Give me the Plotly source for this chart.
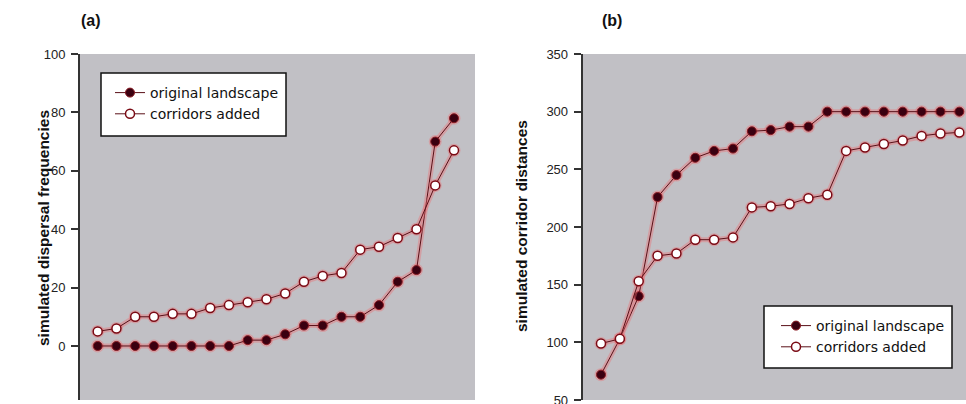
import plotly.graph_objects as go

# ---- data ----
runs = list(range(1, 21))
a_original = [0, 0, 0, 0, 0, 0, 0, 0, 2, 2, 4, 7, 7, 10, 10, 14, 22, 26, 70, 78]
a_corridors = [5, 6, 10, 10, 11, 11, 13, 14, 15, 16, 18, 22, 24, 25, 33, 34, 37, 40, 55, 67]
b_original = [72, 103, 140, 226, 245, 260, 266, 268, 283, 284, 287, 287,
              300, 300, 300, 300, 300, 300, 300, 300]
b_corridors = [99, 103, 153, 175, 177, 189, 189, 191, 217, 218, 220, 225,
               228, 266, 269, 272, 275, 279, 281, 282]
series_names = ["original landscape", "corridors added"]
a_ticks = [0, 20, 40, 60, 80, 100]
b_ticks = [50, 100, 150, 200, 250, 300, 350]

W, H = 966, 404
def px(x): return x / W
def py(y): return 1 - y / H

LINE = "#5a1018"
HALO = "rgba(235,110,115,0.40)"
FILL_DARK = "#3a0010"
EDGE = "#8b1a22"

fig = go.Figure()

def add_series(x, y, xa, ya, filled, name, legend):
    # soft halo underneath
    fig.add_trace(go.Scatter(
        x=x, y=y, xaxis=xa, yaxis=ya, mode="lines+markers",
        line=dict(color=HALO, width=5),
        marker=dict(size=13, color=HALO, line=dict(width=0)),
        showlegend=False, hoverinfo="skip"))
    fig.add_trace(go.Scatter(
        x=x, y=y, xaxis=xa, yaxis=ya, mode="lines+markers", name=name,
        legend=legend,
        line=dict(color=LINE, width=1),
        marker=dict(size=9, symbol="circle",
                    color=FILL_DARK if filled else "white",
                    line=dict(color=EDGE if filled else "#7a0a14",
                              width=1 if filled else 1.5))))

add_series(runs, a_original, "x", "y", True, series_names[0], "legend")
add_series(runs, a_corridors, "x", "y", False, series_names[1], "legend")
add_series(runs, b_original, "x2", "y2", True, series_names[0], "legend2")
add_series(runs, b_corridors, "x2", "y2", False, series_names[1], "legend2")

ydom = [py(400), py(54)]
axis_common = dict(showgrid=False, zeroline=False, automargin=False)
tickfont = dict(family="Liberation Sans, Arial", size=13, color="#222")
yaxis_style = dict(ticks="outside", ticklen=7, tickwidth=1.5, tickcolor="#333",
                   showline=True, linecolor="#333", linewidth=2,
                   tickfont=tickfont, ticklabelstandoff=3,
                   ticklabeloverflow="allow", **axis_common)
legfont = dict(family="DejaVu Sans, Verdana", size=14, color="#111")
titlefont = dict(family="Liberation Sans, Arial", size=15.5, color="#111")
labfont = dict(family="Liberation Sans, Arial", size=16, color="#111")

fig.update_layout(
    width=W, height=H, margin=dict(l=0, r=0, t=0, b=0, autoexpand=False),
    paper_bgcolor="white", plot_bgcolor="#c1c0c5",
    xaxis=dict(domain=[px(80), px(475)], range=[0.057, 21.12],
               showticklabels=False, ticks="", showline=False, **axis_common),
    yaxis=dict(domain=ydom, range=[-18.5, 100], tickvals=a_ticks, **yaxis_style),
    xaxis2=dict(domain=[px(582.7), 1.0], range=[0.03, 20.355],
                showticklabels=False, ticks="", showline=False, anchor="y2",
                **axis_common),
    yaxis2=dict(domain=ydom, range=[50, 350], tickvals=b_ticks, anchor="x2",
                **yaxis_style),
    legend=dict(x=px(110), y=py(77), xanchor="left", yanchor="top",
                bgcolor="rgba(0,0,0,0)", borderwidth=0, font=legfont,
                tracegroupgap=0, itemclick=False),
    legend2=dict(x=px(776), y=py(310), xanchor="left", yanchor="top",
                 bgcolor="rgba(0,0,0,0)", borderwidth=0, font=legfont,
                 tracegroupgap=0, itemclick=False),
    shapes=[
        dict(type="rect", xref="paper", yref="paper", layer="below",
             x0=px(101), x1=px(286), y0=py(136), y1=py(73),
             fillcolor="white", line=dict(color="#111", width=1.5)),
        dict(type="rect", xref="paper", yref="paper", layer="below",
             x0=px(764), x1=px(952), y0=py(368), y1=py(306),
             fillcolor="white", line=dict(color="#111", width=1.5)),
    ],
    annotations=[
        dict(text="<b>(a)</b>", x=px(91), y=py(20.5), xref="paper", yref="paper",
             xanchor="center", yanchor="middle", showarrow=False, font=labfont),
        dict(text="<b>(b)</b>", x=px(612), y=py(20.5), xref="paper", yref="paper",
             xanchor="center", yanchor="middle", showarrow=False, font=labfont),
        dict(text="<b>simulated dispersal frequencies</b>", x=px(44), y=py(228),
             xref="paper", yref="paper", xanchor="center", yanchor="middle",
             showarrow=False, textangle=-90, font=titlefont),
        dict(text="<b>simulated corridor distances</b>", x=px(521), y=py(226),
             xref="paper", yref="paper", xanchor="center", yanchor="middle",
             showarrow=False, textangle=-90, font=titlefont),
    ],
)

fig.write_html("out.html")
